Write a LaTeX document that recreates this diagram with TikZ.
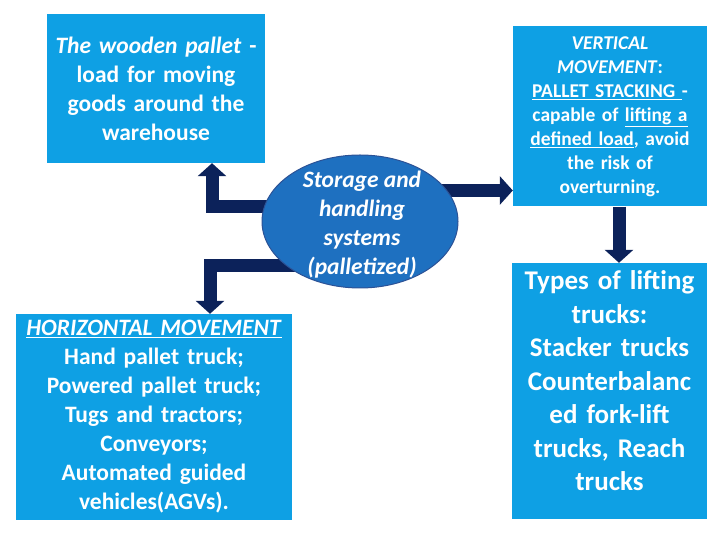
\documentclass[tikz,border=0pt]{standalone}
\usepackage{fontspec}
\setmainfont{Carlito}
\usetikzlibrary{arrows.meta,shapes.geometric,backgrounds}

\definecolor{boxblue}{RGB}{14,160,228}
\definecolor{hubblue}{RGB}{30,112,192}
\definecolor{hubedge}{RGB}{44,82,150}
\definecolor{navy}{RGB}{12,34,90}

\begin{document}
\begin{tikzpicture}[x=1pt,y=1pt,
  infobox/.style={rectangle, fill=boxblue, text=white, align=center, inner sep=0pt},
  flow/.style={draw=navy, line width=13pt, line join=miter, -{Triangle[width=28pt,length=13pt]}}]

  \useasboundingbox (0,0) rectangle (720,540);

  % Wooden pallet
  \node[infobox, minimum width=218pt, minimum height=149pt, text width=214pt,
        font=\bfseries\fontsize{23.5}{29}\selectfont] (pallet) at (156,451.5)
    {\textit{The wooden pallet} -\\ load for moving\\ goods around the\\ warehouse};

  % Storage and handling systems
  \node[ellipse, fill=hubblue, draw=hubedge, line width=1pt,
        minimum width=196pt, minimum height=133pt, inner sep=0pt] (hub) at (360,318.5) {};
  \node[text=white, align=center, inner sep=0pt,
        font=\bfseries\itshape\fontsize{23.5}{29}\selectfont] (hubtext) at (362,315.5)
    {Storage and\\ handling\\ systems\\ (palletized)};

  % Vertical movement
  \node[infobox, minimum width=194pt, minimum height=180pt, text width=190pt,
        font=\bfseries\fontsize{19.5}{24}\selectfont] (vertical) at (610,423.5)
    {\textit{VERTICAL}\\ \textit{MOVEMENT}:\\ \underline{PALLET STACKING }-\\
     capable of \underline{lifting a}\\ \underline{defined load}, avoid\\ the risk of\\ overturning.};

  % Lifting trucks
  \node[infobox, minimum width=195pt, minimum height=256pt, text width=193pt,
        font=\bfseries\fontsize{27}{33.5}\selectfont] (lifting) at (609.5,149)
    {Types of lifting\\ trucks:\\ Stacker trucks\\ Counterbalanc\\ ed fork-lift\\
     trucks, Reach\\ trucks\\[-13.5pt]\mbox{}};

  % Horizontal movement
  \node[infobox, minimum width=276pt, minimum height=206pt, text width=272pt,
        font=\bfseries\fontsize{23.5}{29}\selectfont] (horiz) at (154,123)
    {\underline{\textit{HORIZONTAL MOVEMENT}}\\ Hand pallet truck;\\ Powered pallet truck;\\
     Tugs and tractors;\\ Conveyors;\\ Automated guided\\ vehicles(AGVs).};

  % Arrows
  \coordinate (hubL1) at ([yshift=14.5pt]hub.center);
  \coordinate (hubL2) at ([yshift=-44pt]hub.center);
  \coordinate (hubR) at ([yshift=31pt]hub.center);
  \coordinate (palletIn) at ([xshift=56pt]pallet.south);
  \coordinate (horizIn) at ([xshift=56pt]horiz.north);
  \coordinate (vertOut) at ([xshift=9pt]vertical.south);
  \begin{scope}[on background layer]
    \draw[flow] (hubL1) -| (palletIn);
    \draw[flow] (hubL2) -| (horizIn);
    \draw[flow] (hubR) -- (hubR -| vertical.west);
    \draw[flow] (vertOut) -- (vertOut |- lifting.north);
  \end{scope}

\end{tikzpicture}
\end{document}
